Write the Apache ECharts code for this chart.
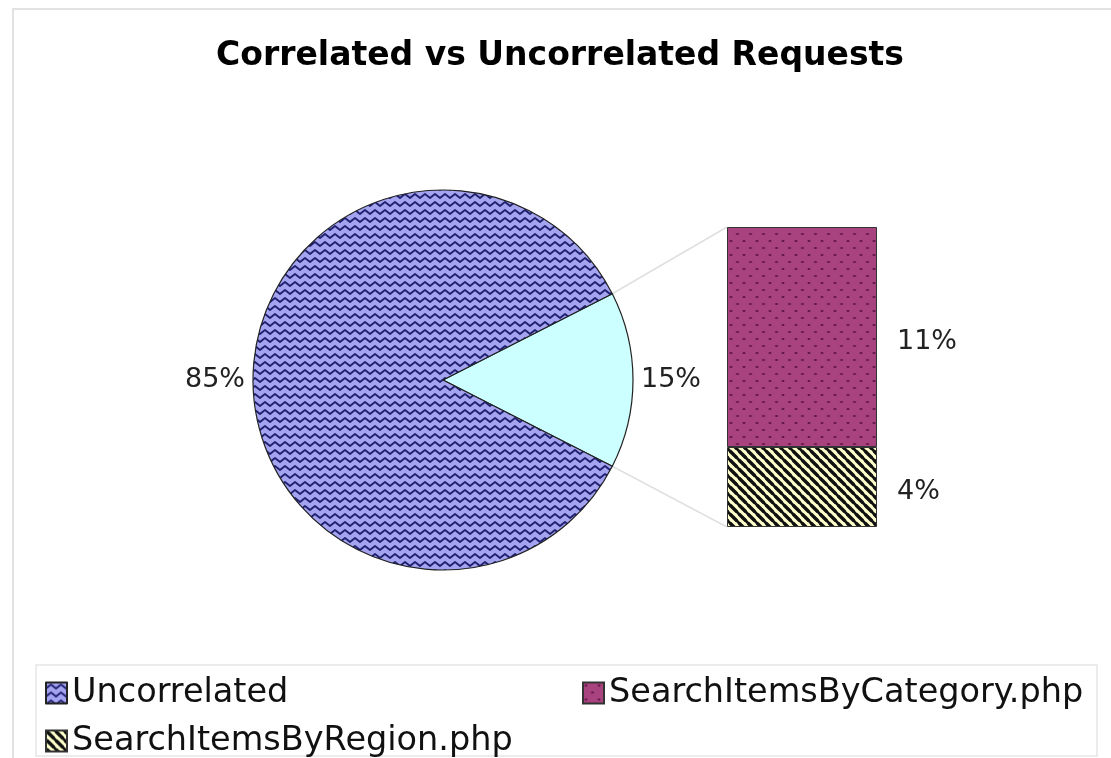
<!DOCTYPE html>
<html>
<head>
<meta charset="utf-8">
<script src="https://cdn.jsdelivr.net/npm/echarts@6/dist/echarts.min.js"></script>
<style>
  html, body { margin: 0; padding: 0; background: #ffffff; }
  #chart { width: 1111px; height: 758px; }
</style>
</head>
<body>
<div id="chart"></div>
<script>
// Share of requests: correlated vs uncorrelated, with the correlated part broken down by page
const pieNames = ['Correlated', 'Uncorrelated'];
const pieValues = [15, 85];
const barNames = ['SearchItemsByCategory.php', 'SearchItemsByRegion.php'];
const barValues = [11, 4];
const legendNames = ['Uncorrelated', 'SearchItemsByCategory.php', 'SearchItemsByRegion.php'];
const titleText = 'Correlated vs Uncorrelated Requests';

// Layout
const PIE = { cx: 443, cy: 380, r: 190 };
const GRID = { left: 727, top: 227, width: 150, height: 300 };
const FONT = 'DejaVu Sans, Verdana, sans-serif';
// legend cells: two columns, two rows
const LEGEND_SLOTS = [{ left: 40, top: 671 }, { left: 577, top: 671 }, { left: 40, top: 719 }];

// Fill patterns
function makeTile(w, h, draw) {
  const c = document.createElement('canvas');
  c.width = w; c.height = h;
  draw(c.getContext('2d'), w, h);
  return { image: c, repeat: 'repeat' };
}

const zigzag = makeTile(10, 8, (g, w, h) => {
  g.fillStyle = '#a3a3f0';
  g.fillRect(0, 0, w, h);
  g.strokeStyle = '#1f1f70';
  g.lineWidth = 1.8;
  g.lineJoin = 'round';
  g.beginPath();
  g.moveTo(-2.5, 4);
  g.lineTo(0, 6);
  g.lineTo(5, 2);
  g.lineTo(10, 6);
  g.lineTo(12.5, 4);
  g.stroke();
});

const dots = makeTile(13, 14, (g, w, h) => {
  g.fillStyle = '#a8437f';
  g.fillRect(0, 0, w, h);
  g.fillStyle = '#4e0b35';
  g.fillRect(2, 2, 2, 2);
  g.fillRect(8.5, 9, 2, 2);
  g.fillStyle = '#82285f';
  g.fillRect(1, 2.5, 4, 1);
  g.fillRect(7.5, 9.5, 4, 1);
});

const stripes = makeTile(9.5, 9.5, (g, w, h) => {
  g.fillStyle = '#ffffcc';
  g.fillRect(0, 0, 10, 10);
  g.strokeStyle = '#111111';
  g.lineWidth = 3.4;
  g.beginPath();
  for (let x = -w; x <= w; x += w) {
    g.moveTo(x - 1, -1);
    g.lineTo(x + w + 1, h + 1);
  }
  g.stroke();
});

const pieColors = { Correlated: '#ccffff', Uncorrelated: zigzag };
const barColors = { 'SearchItemsByCategory.php': dots, 'SearchItemsByRegion.php': stripes };

const chart = echarts.init(document.getElementById('chart'), null, { renderer: 'canvas' });

const total = barValues.reduce((a, b) => a + b, 0);

// Correlated slice is centred on the right-hand side of the pie
const correlatedShare = pieValues[0] / pieValues.reduce((a, b) => a + b, 0);
const halfAngle = correlatedShare * 180;

const legendText = { fontFamily: FONT, fontSize: 33.5, color: '#111111' };
const valueLabel = { fontFamily: FONT, fontSize: 27, color: '#222222' };

chart.setOption({
  animation: false,
  backgroundColor: '#ffffff',
  title: {
    text: titleText,
    left: 216,
    top: 40,
    padding: 0,
    textStyle: { fontFamily: FONT, fontSize: 33, fontWeight: 'bold', color: '#000000' }
  },
  legend: legendNames.map((name, i) => ({
    data: [name],
    orient: 'horizontal',
    left: LEGEND_SLOTS[i].left,
    top: LEGEND_SLOTS[i].top,
    itemWidth: 21,
    itemHeight: 21,
    icon: 'rect',
    selectedMode: false,
    textStyle: legendText
  })),
  grid: { left: GRID.left, top: GRID.top, width: GRID.width, height: GRID.height, containLabel: false },
  xAxis: { type: 'category', data: ['Correlated'], show: false },
  yAxis: { type: 'value', min: 0, max: total, show: false },
  series: [
    {
      type: 'pie',
      center: [PIE.cx, PIE.cy],
      radius: [0, PIE.r],
      startAngle: halfAngle,
      clockwise: true,
      avoidLabelOverlap: false,
      data: pieNames.map((n, i) => ({
        name: n,
        value: pieValues[i],
        itemStyle: { color: pieColors[n] }
      })),
      itemStyle: { borderColor: '#222222', borderWidth: 1.2 },
      label: Object.assign({
        show: true,
        position: 'outside',
        formatter: p => p.value + '%',
        distanceToLabelLine: 4
      }, valueLabel),
      labelLine: { show: false, length: 4, length2: 0 },
      emphasis: { disabled: true }
    },
    {
      type: 'bar',
      name: barNames[1],
      stack: 'correlated',
      data: [barValues[1]],
      barWidth: '100%',
      itemStyle: { color: barColors[barNames[1]], borderColor: '#333333', borderWidth: 1 },
      label: Object.assign({
        show: true, position: 'right', distance: 20, offset: [0, 5],
        formatter: p => p.value + '%'
      }, valueLabel),
      emphasis: { disabled: true }
    },
    {
      type: 'bar',
      name: barNames[0],
      stack: 'correlated',
      data: [barValues[0]],
      barWidth: '100%',
      itemStyle: { color: barColors[barNames[0]], borderColor: '#333333', borderWidth: 1 },
      label: Object.assign({
        show: true, position: 'right', distance: 20, offset: [0, 5],
        formatter: p => p.value + '%'
      }, valueLabel),
      emphasis: { disabled: true }
    }
  ]
});

// Connectors from the correlated slice to the breakdown bar, plus the frame and legend box
const rad = halfAngle * Math.PI / 180;
const sliceTop = [PIE.cx + PIE.r * Math.cos(rad), PIE.cy - PIE.r * Math.sin(rad)];
const sliceBottom = [PIE.cx + PIE.r * Math.cos(rad), PIE.cy + PIE.r * Math.sin(rad)];
const barTopY = chart.convertToPixel({ yAxisIndex: 0 }, total);
const barBottomY = chart.convertToPixel({ yAxisIndex: 0 }, 0);

chart.setOption({
  graphic: [
    {
      type: 'rect', silent: true, z: -1,
      shape: { x: 13, y: 9, width: 1120, height: 780 },
      style: { fill: null, stroke: '#e2e2e2', lineWidth: 2 }
    },
    {
      type: 'rect', silent: true, z: -1,
      shape: { x: 36, y: 665, width: 1061, height: 91 },
      style: { fill: null, stroke: '#e6e6e6', lineWidth: 1.5 }
    },
    {
      type: 'line', silent: true,
      shape: { x1: sliceTop[0], y1: sliceTop[1], x2: GRID.left, y2: barTopY },
      style: { stroke: '#e0e0e0', lineWidth: 1.5 }
    },
    {
      type: 'line', silent: true,
      shape: { x1: sliceBottom[0], y1: sliceBottom[1], x2: GRID.left, y2: barBottomY },
      style: { stroke: '#e0e0e0', lineWidth: 1.5 }
    }
  ]
});
</script>
</body>
</html>
